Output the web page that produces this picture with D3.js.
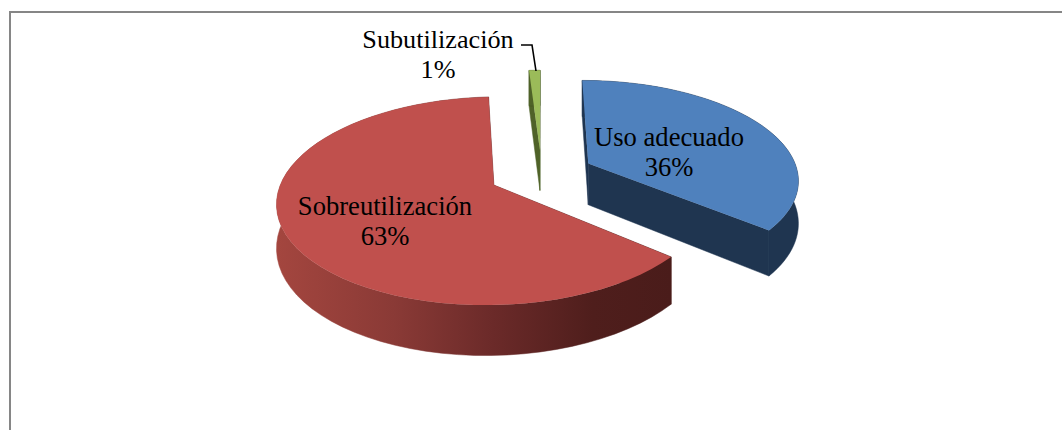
<!DOCTYPE html>
<html><head><meta charset="utf-8"><script src="https://cdn.jsdelivr.net/npm/d3@7"></script>
<style>html,body{margin:0;background:#fff}svg{display:block}text{font-family:"Liberation Serif",serif;fill:#000}</style>
</head><body><svg id="c" width="1062" height="430"></svg>
<script>
const categories=["Uso adecuado","Sobreutilización","Subutilización"];
const values=[36,63,1];
const percentLabels=["36%","63%","1%"];
const topColors=["#4f81bd","#c0504d","#9bbb59"];
const wallColors=["#1f3550","url(#redWall)","#4f6228"];

const svg=d3.select("#c");
svg.append("path").attr("d","M10,430V12H1062").attr("fill","none").attr("stroke","#868686").attr("stroke-width",2);

// perspective disc projection
const cx=541.5,cy=173.7,R=210,ry=98.3,k=0.15,depth=42,explode=0.25;
const proj=(u,v)=>{const s=1/(1-k*v);return [cx+R*u*s,cy+ry*v*s,s];};
const pie=d3.pie().sort(null).startAngle(0).endAngle(2*Math.PI).value(d=>d);
const arcs=pie(values);

const defs=svg.append("defs");
const g=defs.append("linearGradient").attr("id","redWall").attr("gradientUnits","userSpaceOnUse")
 .attr("x1",275).attr("x2",672).attr("y1",0).attr("y2",0);
[[0,"#a4463f"],[0.3,"#8a3a36"],[0.55,"#6b2a29"],[0.8,"#4f1e1c"],[1,"#4a1c1a"]].forEach(([o,c])=>g.append("stop").attr("offset",o).attr("stop-color",c));

const line=d3.line();
const drawOrder=[2,0,1];
const geo=arcs.map(a=>{
  const mid=(a.startAngle+a.endAngle)/2;
  const ox=explode*Math.sin(mid),oy=-explode*Math.cos(mid);
  const pt=(r,t)=>proj(ox+r*Math.sin(t),oy-r*Math.cos(t));
  const angles=d3.range(0,61).map(i=>a.startAngle+(a.endAngle-a.startAngle)*i/60);
  return {a,apex:pt(0,0),rim:angles.map(t=>pt(1,t))};
});
const down=p=>[p[0],p[1]+depth*p[2]];
const xy=p=>[p[0],p[1]];
drawOrder.forEach(i=>{
  const d=geo[i],gp=svg.append("g");
  const first=d.rim[0],last=d.rim[d.rim.length-1];
  const wall=[
    [d.apex,first,down(first),down(d.apex)],
    [d.apex,last,down(last),down(d.apex)],
    [...d.rim,...d.rim.slice().reverse().map(down)]
  ];
  wall.forEach(w=>gp.append("path").attr("d",line(w.map(xy))+"Z").attr("fill",wallColors[i]).attr("stroke",wallColors[i]).attr("stroke-width",0.5));
  gp.append("path").attr("d",line([d.apex,...d.rim].map(xy))+"Z").attr("fill",topColors[i]);
});

const labelPos=[[669,146,176,26.6],[385,215,245,26.6],[438,48,78,26.2]];
categories.forEach((c,i)=>{
  const [x,y1,y2,fs]=labelPos[i];
  svg.append("text").attr("x",x).attr("y",y1).attr("font-size",fs).attr("text-anchor","middle").text(c);
  svg.append("text").attr("x",x).attr("y",y2).attr("font-size",fs).attr("text-anchor","middle").text(percentLabels[i]);
});
svg.append("path").attr("d","M521,45H532L536,71").attr("fill","none").attr("stroke","#000").attr("stroke-width",1.6);
</script></body></html>
